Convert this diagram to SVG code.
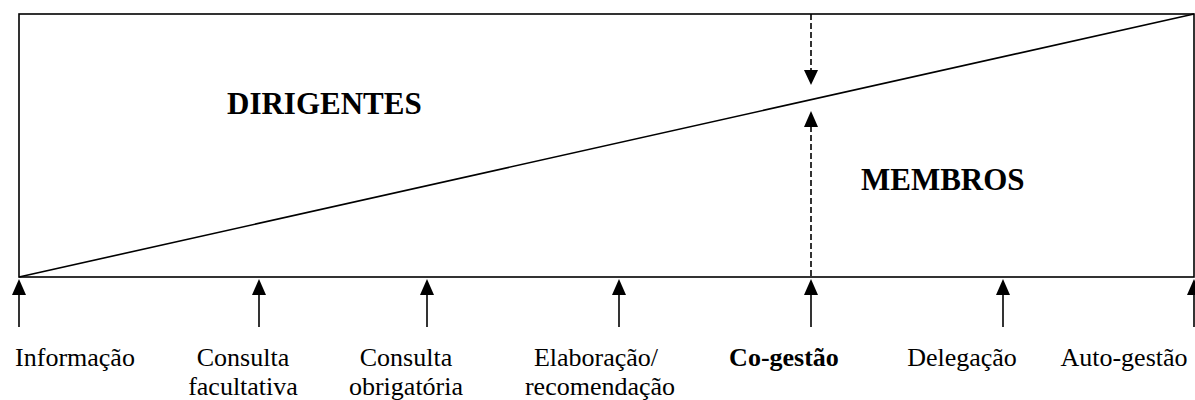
<svg xmlns="http://www.w3.org/2000/svg" width="1195" height="400" viewBox="0 0 1195 400">
<style>
.ln{stroke:#000;stroke-width:1.6;fill:none}
.ds{stroke:#000;stroke-width:1.6;fill:none;stroke-dasharray:6 3}
.hd{fill:#000}
.lb{font-family:"Liberation Serif","Times New Roman",serif;font-size:26px;fill:#000;text-anchor:middle}
.bd{font-family:"Liberation Serif","Times New Roman",serif;font-size:31px;font-weight:bold;fill:#000}
</style>
<rect width="1195" height="400" fill="#fff"/>
<g id="frame">
<rect x="19" y="14" width="1175" height="263" class="ln"/>
<line x1="19" y1="277" x2="1194" y2="14" class="ln" stroke-width="2"/>
</g>
<g id="regions">
<text class="bd" x="227" y="114">DIRIGENTES</text>
<text class="bd" x="861" y="190">MEMBROS</text>
</g>
<g id="connectors">
<line x1="811" y1="14" x2="811" y2="71" class="ds"/>
<polygon class="hd" points="804,70 818,70 811,85"/>
<line x1="811" y1="126" x2="811" y2="277" class="ds"/>
<polygon class="hd" points="804,127 818,127 811,111"/>
<g id="a1"><line x1="19" y1="294" x2="19" y2="327" class="ln"/><polygon class="hd" points="12,295 26,295 19,279"/></g>
<g id="a2"><line x1="259" y1="294" x2="259" y2="327" class="ln"/><polygon class="hd" points="252,295 266,295 259,279"/></g>
<g id="a3"><line x1="427" y1="294" x2="427" y2="327" class="ln"/><polygon class="hd" points="420,295 434,295 427,279"/></g>
<g id="a4"><line x1="619" y1="294" x2="619" y2="327" class="ln"/><polygon class="hd" points="612,295 626,295 619,279"/></g>
<g id="a5"><line x1="811" y1="294" x2="811" y2="327" class="ln"/><polygon class="hd" points="804,295 818,295 811,279"/></g>
<g id="a6"><line x1="1003" y1="294" x2="1003" y2="327" class="ln"/><polygon class="hd" points="996,295 1010,295 1003,279"/></g>
<g id="a7"><line x1="1194" y1="294" x2="1194" y2="327" class="ln"/><polygon class="hd" points="1187,295 1201,295 1194,279"/></g>
</g>
<g id="n1"><text class="lb" x="75" y="366">Informação</text></g>
<g id="n2"><text class="lb" x="243" y="366">Consulta</text><text class="lb" x="243" y="395">facultativa</text></g>
<g id="n3"><text class="lb" x="406" y="366">Consulta</text><text class="lb" x="406" y="395">obrigatória</text></g>
<g id="n4"><text class="lb" x="596" y="366">Elaboração/</text><text class="lb" x="600" y="395">recomendação</text></g>
<g id="n5"><text class="lb" x="784" y="366" font-weight="bold">Co-gestão</text></g>
<g id="n6"><text class="lb" x="962" y="366">Delegação</text></g>
<g id="n7"><text class="lb" x="1124" y="366">Auto-gestão</text></g>
</svg>
